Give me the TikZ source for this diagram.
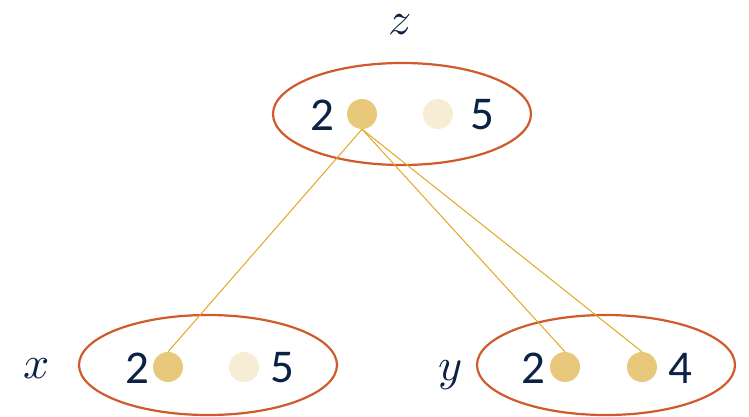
\documentclass[tikz,border=0pt]{standalone}
\usepackage{fontspec}
\setmainfont{Carlito}
\usepackage{unicode-math}
\definecolor{navy}{HTML}{0B2244}
\definecolor{dotc}{HTML}{E8C87A}
\definecolor{dotl}{HTML}{F7EDD4}
\definecolor{ringc}{HTML}{D05A2C}
\definecolor{linec}{HTML}{E0A826}
\begin{document}
\begin{tikzpicture}[x=1pt,y=-1pt,
  ring/.style={draw=ringc,line width=2.2pt},
  dot/.style={circle,fill=dotc,minimum size=30pt,inner sep=0pt},
  ldot/.style={circle,fill=dotl,minimum size=30pt,inner sep=0pt},
  num/.style={inner sep=0pt,text=navy,font=\fontsize{47}{50}\selectfont},
  var/.style={inner sep=0pt,text=navy,font=\fontsize{46}{50}\selectfont},
  link/.style={draw=linec,line width=1pt}]
\useasboundingbox (0,0) rectangle (749,416);
% ellipses
\draw[ring] (402,114) ellipse [x radius=129, y radius=51];
\draw[ring] (208,365) ellipse [x radius=129, y radius=50];
\draw[ring] (606,365) ellipse [x radius=129, y radius=50];
% dots
\node[dot] (zd1) at (362,114) {};
\node[ldot] (zd2) at (438,114) {};
\node[dot] (xd1) at (168,367) {};
\node[ldot] (xd2) at (244,367) {};
\node[dot] (yd1) at (565,367) {};
\node[dot] (yd2) at (642,367) {};
% numbers
\node[num] (zn1) at (322,115) {2};
\node[num] (zn2) at (482,115) {5};
\node[num] (xn1) at (137,368) {2};
\node[num] (xn2) at (282,368) {5};
\node[num] (yn1) at (533,368) {2};
\node[num] (yn2) at (680,368) {4};
% variable labels
\node[var] (lz) at (400,25) {$z$};
\node[var] (lx) at (37,369) {$x$};
\node[var] (ly) at (450,375) {$y$};
% links
\draw[link] (zd1.south) -- (xd1.north);
\draw[link] (zd1.south) -- (yd1.north);
\draw[link] (zd1.south) -- (yd2.north);
\end{tikzpicture}
\end{document}
